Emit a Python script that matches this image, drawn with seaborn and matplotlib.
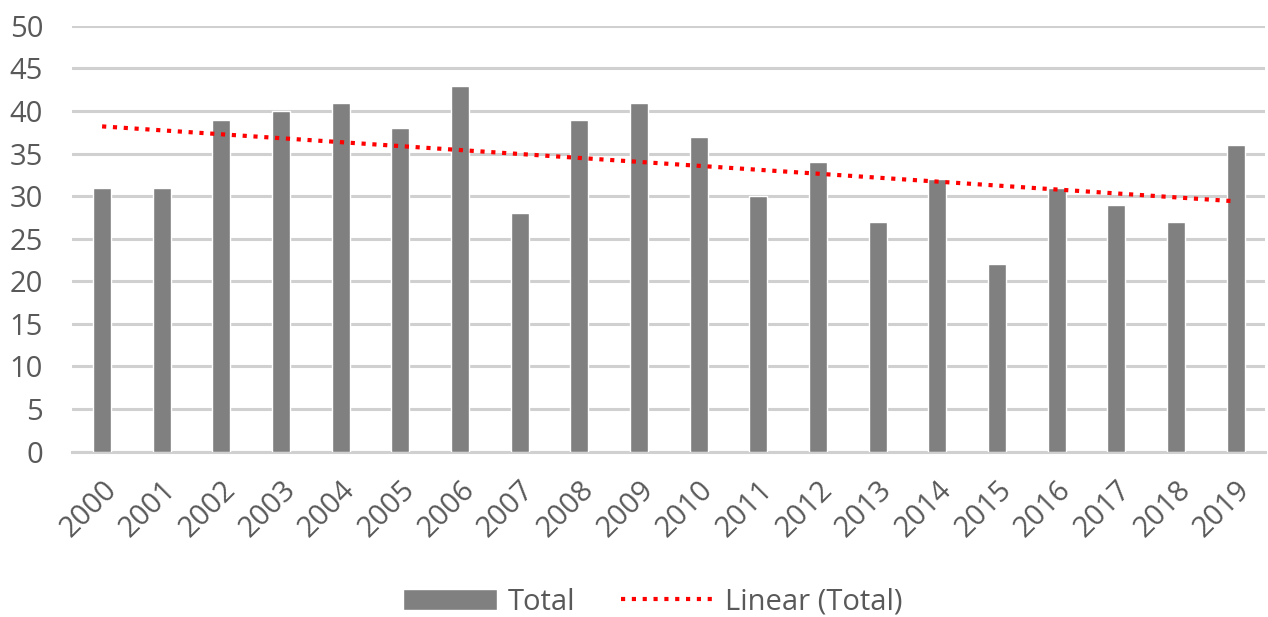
import numpy as np
import pandas as pd
import seaborn as sns
import matplotlib.pyplot as plt
from matplotlib.patches import Patch
from matplotlib.lines import Line2D

years = [str(y) for y in range(2000, 2020)]
totals = [31, 31, 39, 40, 41, 38, 43, 28, 39, 41, 37, 30, 34, 27, 32, 22, 31, 29, 27, 36]

df = pd.DataFrame({"year": years, "total": totals})

sns.set_theme(style="white")
plt.rcParams["font.family"] = ["Open Sans", "DejaVu Sans"]

fig = plt.figure(figsize=(12.68, 6.17), dpi=100)
ax = fig.add_axes([0.057, 0.268, 0.941, 0.690])

sns.barplot(data=df, x="year", y="total", color="#808080", width=0.30,
            saturation=1, ax=ax, zorder=3)

# linear trend of the totals
xs = np.arange(len(totals))
slope, intercept = np.polyfit(xs, totals, 1)
ax.plot(xs, slope * xs + intercept, color="red", linestyle=(0, (1, 1.6)),
        linewidth=3, zorder=4)

ax.set_ylim(0, 50)
ax.set_yticks(range(0, 51, 5))
ax.set_xlim(-0.5, len(years) - 0.5)
ax.yaxis.grid(True, color="#d0d0d0", linewidth=2.2, zorder=0)
ax.set_axisbelow(True)
for s in ["top", "right", "left"]:
    ax.spines[s].set_visible(False)
ax.spines["bottom"].set_color("#d0d0d0")
ax.spines["bottom"].set_linewidth(2.2)
ax.tick_params(axis="both", length=0, colors="#595959", labelsize=21)
ax.tick_params(axis="y", pad=21)
ax.tick_params(axis="x", pad=17)
plt.setp(ax.get_xticklabels(), rotation=45, ha="right", rotation_mode="anchor")
ax.set_xlabel("")
ax.set_ylabel("")

handles = [Patch(facecolor="#808080", label="Total"),
           Line2D([0], [0], color="red", linestyle=(0, (1, 1.6)), linewidth=3,
                  label="Linear (Total)")]
leg = fig.legend(handles=handles, loc="center", bbox_to_anchor=(0.515, 0.024),
                 ncol=2, frameon=False, fontsize=21, handlelength=3.2,
                 handleheight=0.7, columnspacing=1.55, handletextpad=0.38)
for t in leg.get_texts():
    t.set_color("#595959")

fig.savefig("out.png", dpi=100)
